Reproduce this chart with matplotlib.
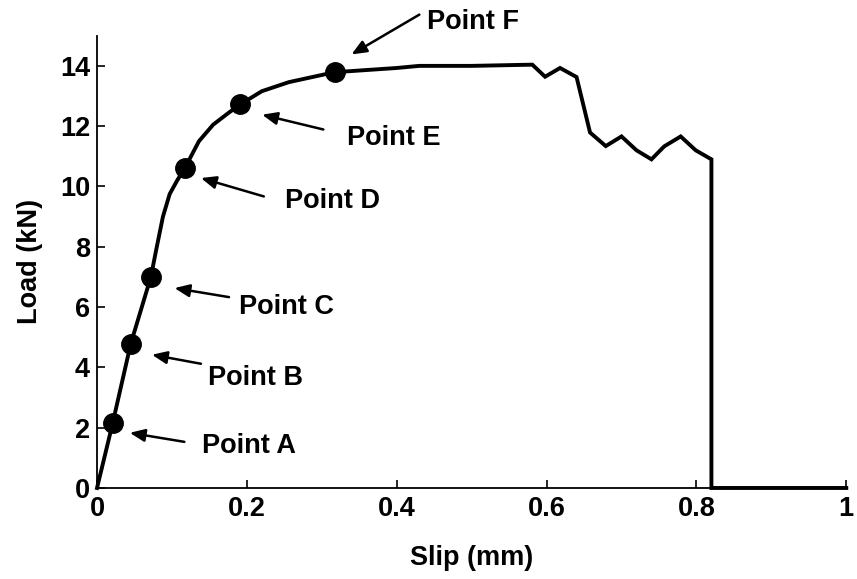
import matplotlib.pyplot as plt

plt.rcParams['font.family'] = ['Liberation Sans', 'DejaVu Sans']
plt.rcParams['font.weight'] = 'bold'
plt.rcParams['axes.labelweight'] = 'bold'

# load-slip curve
slip = [0, 0.021, 0.045, 0.072, 0.079, 0.088, 0.097, 0.107, 0.117, 0.136, 0.155,
        0.176, 0.191, 0.220, 0.256, 0.317, 0.400, 0.430, 0.500, 0.581, 0.598,
        0.618, 0.640, 0.658, 0.679, 0.700, 0.720, 0.740, 0.757, 0.779, 0.799,
        0.820, 0.820, 1.0]
load = [0, 2.16, 4.78, 7.01, 7.90, 9.00, 9.75, 10.20, 10.60, 11.50, 12.05,
        12.45, 12.72, 13.16, 13.46, 13.79, 13.93, 14.00, 14.00, 14.04, 13.64,
        13.93, 13.63, 11.79, 11.34, 11.66, 11.20, 10.90, 11.33, 11.66, 11.20,
        10.90, 0, 0]

# marked points
point_names = ['Point A', 'Point B', 'Point C', 'Point D', 'Point E', 'Point F']
point_slip = [0.021, 0.045, 0.072, 0.117, 0.191, 0.317]
point_load = [2.16, 4.78, 7.01, 10.60, 12.72, 13.79]

# label placement: text position, arrow tail and arrow tip (data coords)
text_pos = [(0.1405, 1.49), (0.148, 3.75), (0.189, 6.10), (0.251, 9.63),
            (0.333, 11.72), (0.441, 15.55)]
arrow_tail = [(0.1166, 1.53), (0.1387, 4.12), (0.1762, 6.33), (0.2226, 9.67),
              (0.3021, 11.89), (0.4302, 15.70)]
arrow_tip = [(0.0437, 1.83), (0.0733, 4.42), (0.1034, 6.63), (0.1387, 10.28),
             (0.2204, 12.38), (0.3396, 14.38)]

fig = plt.figure(figsize=(8.57, 5.79), dpi=100)
ax = fig.add_axes([0.1132, 0.1572, 0.8743, 0.7811])

ax.plot(slip, load, color='black', lw=2.8, solid_joinstyle='miter', clip_on=False, zorder=3)
ax.plot(point_slip, point_load, 'o', color='black', ms=14, clip_on=False, zorder=4)

for name, tp, tail, tip in zip(point_names, text_pos, arrow_tail, arrow_tip):
    ax.annotate('', xy=tip, xytext=tail,
                arrowprops=dict(arrowstyle='-|>,head_length=0.9,head_width=0.38',
                                color='black', lw=1.8, shrinkA=0, shrinkB=0),
                annotation_clip=False)
    ax.text(tp[0], tp[1], name, fontsize=19.5, ha='left', va='center_baseline')

ax.set_xlim(0, 1)
ax.set_ylim(0, 15)
ax.set_xticks([0, 0.2, 0.4, 0.6, 0.8, 1])
ax.set_xticklabels(['0', '0.2', '0.4', '0.6', '0.8', '1'])
ax.set_yticks([0, 2, 4, 6, 8, 10, 12, 14])

ax.spines['top'].set_visible(False)
ax.spines['right'].set_visible(False)
for s in ['left', 'bottom']:
    ax.spines[s].set_linewidth(1.3)
ax.tick_params(direction='in', length=6, width=1.2, labelsize=19.5)
ax.tick_params(axis='x', pad=6)
ax.tick_params(axis='y', pad=5)

ax.set_xlabel('Slip (mm)', fontsize=19.5, labelpad=16)
ax.set_ylabel('Load (kN)', fontsize=19.5, labelpad=12)

fig.savefig('out.png', dpi=100)
